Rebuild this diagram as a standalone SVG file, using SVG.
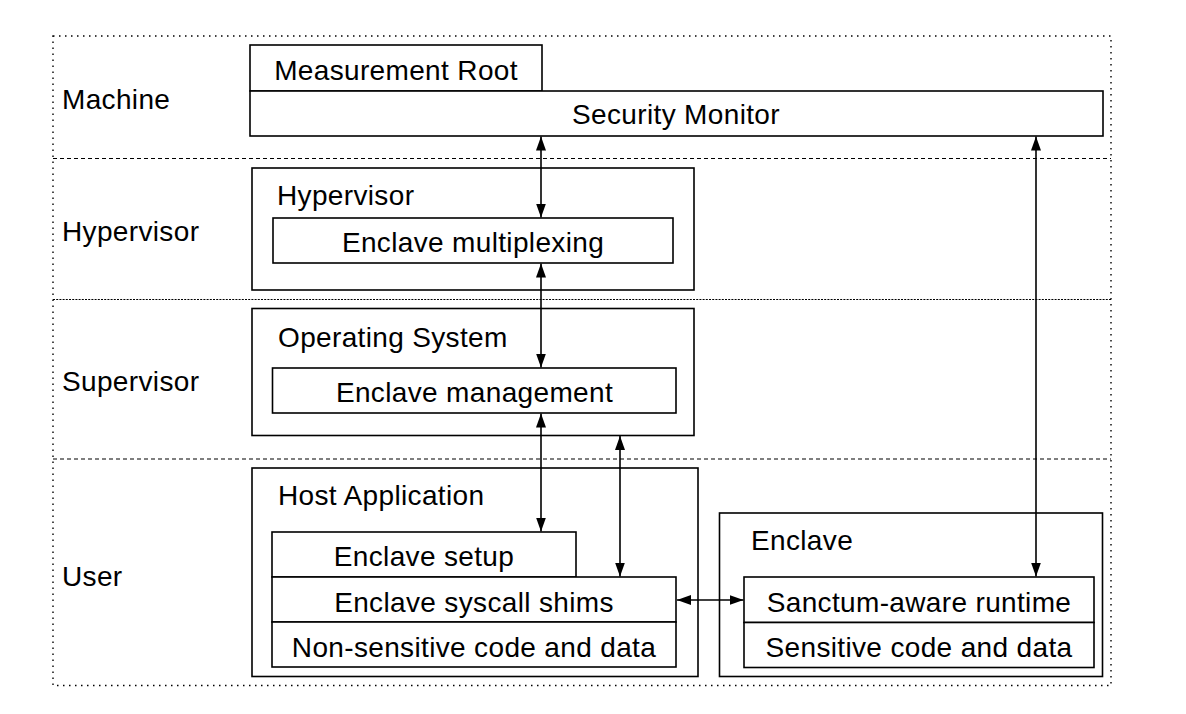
<svg xmlns="http://www.w3.org/2000/svg" width="1186" height="714" viewBox="0 0 1186 714">
<defs>
<style>
.box{fill:#fff;stroke:#000;stroke-width:1.6}
.t{font-family:"Liberation Sans",Arial,Helvetica,sans-serif;font-size:28px;letter-spacing:0.35px;fill:#000}
.c{text-anchor:middle}
.sep{stroke:#000;stroke-width:1.2;fill:none}
.conn{stroke:#000;stroke-width:1.6;fill:none;marker-start:url(#ah);marker-end:url(#ah)}
</style>
<marker id="ah" markerUnits="userSpaceOnUse" markerWidth="14" markerHeight="10" refX="14" refY="5" orient="auto-start-reverse">
<path d="M0,0 L14,5 L0,10 z" fill="#000"/>
</marker>
</defs>
<rect width="1186" height="714" fill="#fff"/>

<g id="layers">
<rect x="53" y="36" width="1058" height="649.5" fill="none" stroke="#000" stroke-width="1.4" stroke-dasharray="1.5 4.5"/>
<line class="sep" x1="53" y1="158.5" x2="1111" y2="158.5" stroke-dasharray="4 3"/>
<line class="sep" x1="53" y1="299.5" x2="1111" y2="299.5" stroke-dasharray="2 1.2"/>
<line class="sep" x1="53" y1="459" x2="1111" y2="459" stroke-dasharray="4 3"/>
<text class="t" x="62" y="109">Machine</text>
<text class="t" x="62" y="241">Hypervisor</text>
<text class="t" x="62" y="391">Supervisor</text>
<text class="t" x="62" y="586">User</text>
</g>

<g id="measurement-root">
<rect class="box" x="250" y="45" width="292" height="46"/>
<text class="t c" x="396" y="80">Measurement Root</text>
</g>
<g id="security-monitor">
<rect class="box" x="250" y="91" width="853" height="45"/>
<text class="t c" x="676" y="124">Security Monitor</text>
</g>

<g id="hypervisor">
<rect class="box" x="252" y="168" width="442" height="122"/>
<text class="t" x="277" y="205">Hypervisor</text>
</g>
<g id="enclave-multiplexing">
<rect class="box" x="273" y="218" width="400" height="45"/>
<text class="t c" x="473" y="252">Enclave multiplexing</text>
</g>

<g id="operating-system">
<rect class="box" x="252" y="308.5" width="442" height="127"/>
<text class="t" x="278" y="347">Operating System</text>
</g>
<g id="enclave-management">
<rect class="box" x="272.5" y="368" width="403.5" height="45"/>
<text class="t c" x="474.5" y="402">Enclave management</text>
</g>

<g id="host-application">
<rect class="box" x="252" y="468" width="446" height="208.5"/>
<text class="t" x="278" y="505">Host Application</text>
</g>
<g id="enclave-setup">
<rect class="box" x="272" y="532" width="304" height="45"/>
<text class="t c" x="424" y="566">Enclave setup</text>
</g>
<g id="enclave-syscall-shims">
<rect class="box" x="272" y="577" width="404" height="45"/>
<text class="t c" x="474" y="612">Enclave syscall shims</text>
</g>
<g id="non-sensitive">
<rect class="box" x="272" y="622" width="404" height="45"/>
<text class="t c" x="474" y="656.5">Non-sensitive code and data</text>
</g>

<g id="enclave">
<rect class="box" x="719.5" y="513" width="383" height="163.5"/>
<text class="t" x="751" y="550">Enclave</text>
</g>
<g id="sanctum-runtime">
<rect class="box" x="744" y="577" width="350" height="45.5"/>
<text class="t c" x="919" y="612">Sanctum-aware runtime</text>
</g>
<g id="sensitive">
<rect class="box" x="744" y="622.5" width="350" height="45"/>
<text class="t c" x="919" y="657">Sensitive code and data</text>
</g>

<g id="connectors">
<line class="conn" x1="541" y1="136.5" x2="541" y2="217.5"/>
<line class="conn" x1="541" y1="263.5" x2="541" y2="367.5"/>
<line class="conn" x1="541" y1="413.5" x2="541" y2="531.5"/>
<line class="conn" x1="620" y1="436" x2="620" y2="576.5"/>
<line class="conn" x1="1036" y1="136.5" x2="1036" y2="576.5"/>
<line class="conn" x1="677" y1="600" x2="743.5" y2="600"/>
</g>
</svg>
